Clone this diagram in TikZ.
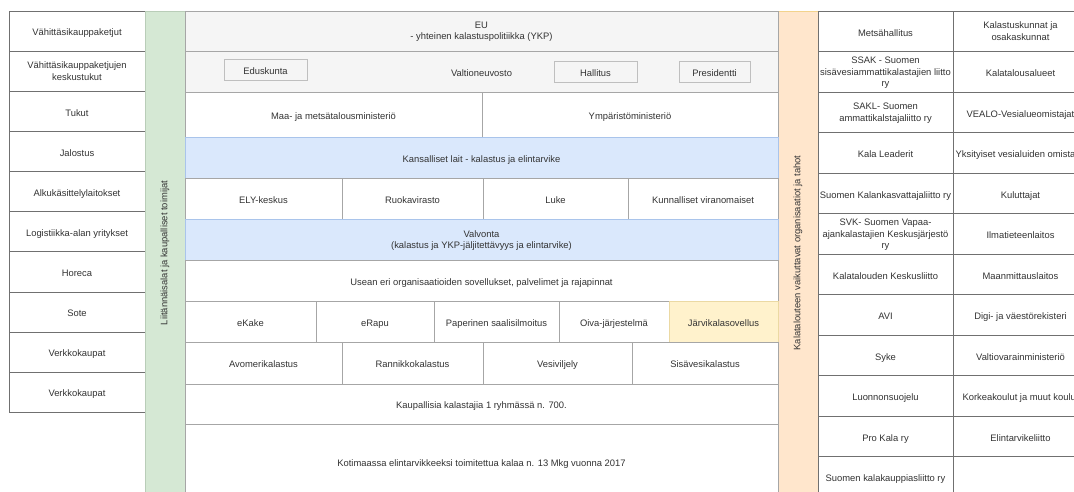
\documentclass[tikz,border=0pt]{standalone}
\usepackage{fontspec}
\setmainfont{Liberation Sans}
\usetikzlibrary{positioning}
\definecolor{txtgray}{HTML}{333333}
\definecolor{linegray}{HTML}{A6A6A6}
\definecolor{sidegray}{HTML}{707070}
\definecolor{eugray}{HTML}{F5F5F5}
\definecolor{lawblue}{HTML}{DAE8FC}
\definecolor{lawblueline}{HTML}{A9C4EB}
\definecolor{sidegreen}{HTML}{D5E8D4}
\definecolor{sidegreenline}{HTML}{B9CDB8}
\definecolor{sideorange}{HTML}{FFE6CC}
\definecolor{sideorangeline}{HTML}{F3D38C}
\definecolor{appyellow}{HTML}{FFF2CC}
\definecolor{appyellowline}{HTML}{EBD9A3}
\tikzset{
    cell/.style 2 args={draw=linegray, fill=white, minimum width=#1pt, minimum height=#2pt,
        inner sep=1pt, outer sep=0pt, align=center, text=txtgray, text depth=0pt,
        execute at begin node=\rule{0pt}{9.5pt},
        font=\fontsize{9.4}{11.5}\selectfont},
    lcell/.style={cell={136}{40.1}, draw=sidegray},
    rcell/.style={cell={135}{40.5}, draw=sidegray},
    law/.style={fill=lawblue, draw=lawblueline},
    sidebar/.style={rotate=90, inner sep=0pt, outer sep=0pt, text=txtgray,
        minimum width=484pt, minimum height=40pt, font=\fontsize{9.4}{11.5}\selectfont},
    govbox/.style={cell={#1}{21}, fill=eugray, draw=black!25},
}

\begin{document}
\begin{tikzpicture}[x=1pt, y=-1pt]
    \useasboundingbox (0,0) rectangle (1074,491);
    \clip (0,0) rectangle (1074,491);

    % left column
    \node[lcell, anchor=north west] (l1) at (9,11) {Vähittäsikauppaketjut};
    \node[lcell, below=0pt of l1] (l2) {Vähittäsikauppaketjujen\\keskustukut};
    \node[lcell, below=0pt of l2] (l3) {Tukut};
    \node[lcell, below=0pt of l3] (l4) {Jalostus};
    \node[lcell, below=0pt of l4] (l5) {Alkukäsittelylaitokset};
    \node[lcell, below=0pt of l5] (l6) {Logistiikka-alan yritykset};
    \node[lcell, below=0pt of l6] (l7) {Horeca};
    \node[lcell, below=0pt of l7] (l8) {Sote};
    \node[lcell, below=0pt of l8] (l9) {Verkkokaupat};
    \node[lcell, below=0pt of l9] (l10) {Verkkokaupat};

    % side bars
    \node[sidebar, fill=sidegreen, draw=sidegreenline] (green) at (165,253)
        {Liitännäisalat ja kaupalliset toimijat};
    \node[sidebar, fill=sideorange, draw=sideorangeline] (orange) at (798,253)
        {Kalatalouteen vaikuttavat organisaatiot ja tahot};

    % EU and government
    \node[cell={593}{40}, fill=eugray, anchor=north west] (eu) at (185,11)
        {EU\\- yhteinen kalastuspolitiikka (YKP)};
    \node[cell={593}{41}, fill=eugray, below=0pt of eu] (vn) {Valtioneuvosto};
    \node[govbox=83, anchor=north west] (edus) at (224,59.5) {Eduskunta};
    \node[govbox=83, anchor=north west] (hall) at (554,61) {Hallitus};
    \node[govbox=71, anchor=north west] (pres) at (679,61) {Presidentti};

    % ministries
    \node[cell={297}{45}, anchor=north west] (mmm) at (185,92) {Maa- ja metsätalousministeriö};
    \node[cell={296}{45}, right=0pt of mmm] (ym) {Ympäristöministeriö};

    \node[cell={593}{41}, law, anchor=north west] (lait) at (185,137)
        {Kansalliset lait - kalastus ja elintarvike};

    % authorities
    \node[cell={157}{41}, anchor=north west] (ely) at (185,178) {ELY-keskus};
    \node[cell={141}{41}, right=0pt of ely] (ruoka) {Ruokavirasto};
    \node[cell={145}{41}, right=0pt of ruoka] (luke) {Luke};
    \node[cell={150}{41}, right=0pt of luke] (kunta) {Kunnalliset viranomaiset};

    \node[cell={593}{41}, law, anchor=north west] (valv) at (185,219)
        {Valvonta\\(kalastus ja YKP-jäljitettävyys ja elintarvike)};
    \node[cell={593}{41}, below=0pt of valv] (sovel)
        {Usean eri organisaatioiden sovellukset, palvelimet ja rajapinnat};

    % applications
    \node[cell={131}{41}, anchor=north west] (ekake) at (185,301) {eKake};
    \node[cell={118}{41}, right=0pt of ekake] (erapu) {eRapu};
    \node[cell={125}{41}, right=0pt of erapu] (paper) {Paperinen saalisilmoitus};
    \node[cell={110}{41}, right=0pt of paper] (oiva) {Oiva-järjestelmä};
    \node[cell={109}{41}, fill=appyellow, draw=appyellowline, right=0pt of oiva] (jarvi)
        {Järvikalasovellus};

    % fishing types
    \node[cell={157}{42}, anchor=north west] (avo) at (185,342) {Avomerikalastus};
    \node[cell={141}{42}, right=0pt of avo] (ranni) {Rannikkokalastus};
    \node[cell={149}{42}, right=0pt of ranni] (vesi) {Vesiviljely};
    \node[cell={146}{42}, right=0pt of vesi] (sisa) {Sisävesikalastus};

    \node[cell={593}{40}, anchor=north west] (kaup) at (185,384)
        {Kaupallisia kalastajia 1 ryhmässä n. 700.};
    \node[cell={593}{76}, below=0pt of kaup] (koti)
        {Kotimaassa elintarvikkeeksi toimitettua kalaa n. 13 Mkg vuonna 2017};

    % right columns
    \node[rcell, anchor=north west] (r1) at (818,11) {Metsähallitus};
    \node[rcell, below=0pt of r1] (r2) {SSAK - Suomen\\sisävesiammattikalastajien liitto\\ry};
    \node[rcell, below=0pt of r2] (r3) {SAKL- Suomen\\ammattikalstajaliitto ry};
    \node[rcell, below=0pt of r3] (r4) {Kala Leaderit};
    \node[rcell, below=0pt of r4] (r5) {Suomen Kalankasvattajaliitto ry};
    \node[rcell, below=0pt of r5] (r6) {SVK- Suomen Vapaa-\\ajankalastajien Keskusjärjestö\\ry};
    \node[rcell, below=0pt of r6] (r7) {Kalatalouden Keskusliitto};
    \node[rcell, below=0pt of r7] (r8) {AVI};
    \node[rcell, below=0pt of r8] (r9) {Syke};
    \node[rcell, below=0pt of r9] (r10) {Luonnonsuojelu};
    \node[rcell, below=0pt of r10] (r11) {Pro Kala ry};
    \node[rcell, below=0pt of r11] (r12) {Suomen kalakauppiasliitto ry};

    \node[rcell, right=0pt of r1] (s1) {Kalastuskunnat ja\\osakaskunnat};
    \node[rcell, right=0pt of r2] (s2) {Kalatalousalueet};
    \node[rcell, right=0pt of r3] (s3) {VEALO-Vesialueomistajat};
    \node[rcell, right=0pt of r4] (s4) {Yksityiset vesialuiden omistajat};
    \node[rcell, right=0pt of r5] (s5) {Kuluttajat};
    \node[rcell, right=0pt of r6] (s6) {Ilmatieteenlaitos};
    \node[rcell, right=0pt of r7] (s7) {Maanmittauslaitos};
    \node[rcell, right=0pt of r8] (s8) {Digi- ja väestörekisteri};
    \node[rcell, right=0pt of r9] (s9) {Valtiovarainministeriö};
    \node[rcell, right=0pt of r10] (s10) {Korkeakoulut ja muut koulut};
    \node[rcell, right=0pt of r11] (s11) {Elintarvikeliitto};
    \node[rcell, right=0pt of r12] (s12) {};
\end{tikzpicture}
\end{document}
